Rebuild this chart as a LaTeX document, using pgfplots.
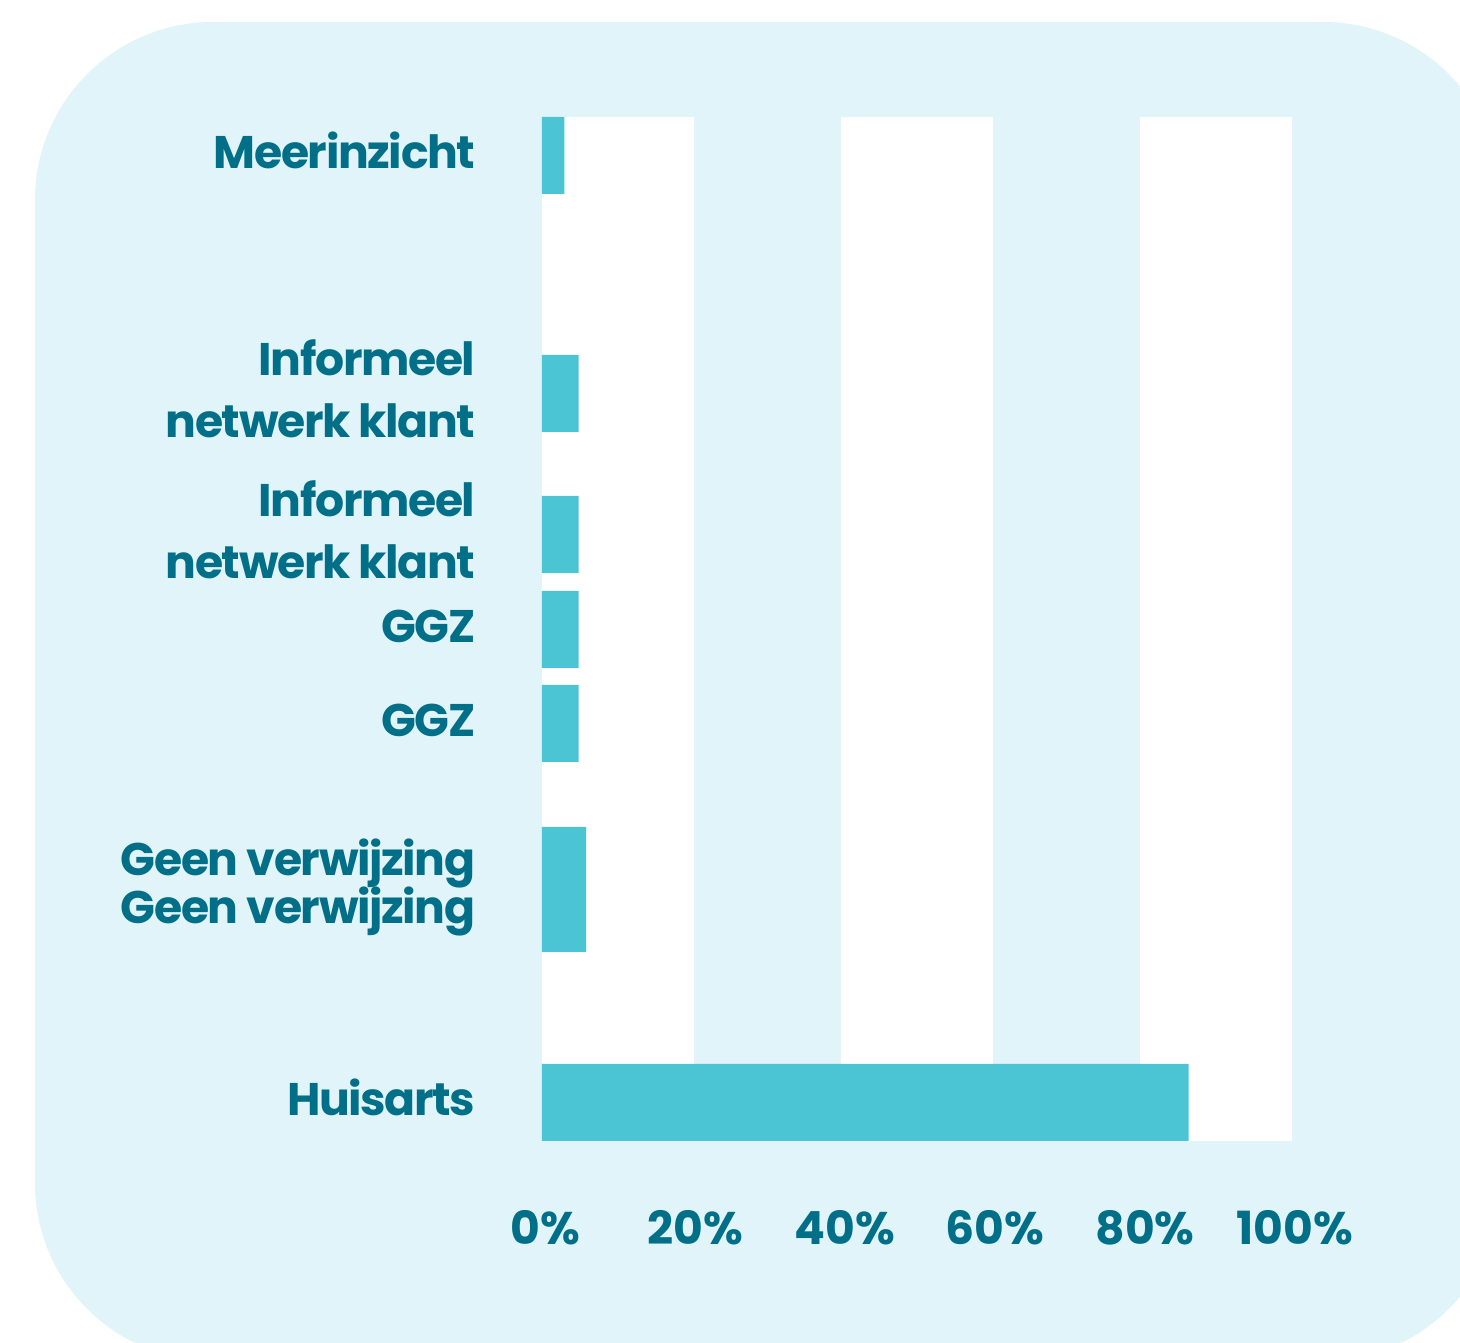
\documentclass[border=0pt]{standalone}
\usepackage{pgfplots}
\pgfplotsset{compat=1.18}
\usepackage{fontspec}
\setmainfont{Poppins}
\newfontfamily\lblfont{Poppins}[LetterSpace=-3]
\definecolor{bgc}{HTML}{E1F4F9}
\definecolor{barc}{HTML}{4BC4D3}
\definecolor{txt}{HTML}{006F87}
\begin{document}
\begin{tikzpicture}
\clip (0,0) rectangle (14.6,13.43);
\fill[white] (0,0) rectangle (14.6,13.43);
% rounded panel behind the chart
\fill[bgc, rounded corners=1.78cm] (0.35,13.21) rectangle (15.01,-0.18);
\begin{axis}[
    at={(5.42cm,2.02cm)}, anchor=south west,
    scale only axis,
    width=7.5cm, height=10.24cm,
    xmin=0, xmax=100,
    ymin=117, ymax=1141,
    y dir=reverse,
    axis line style={draw=none},
    major tick length=0pt,
    xtick={0,20,40,60,80,100},
    xticklabels={0\%,20\%,40\%,60\%,80\%,100\%},
    xticklabel style={anchor=base, yshift=-1.04cm, xshift=0.03cm, inner sep=0pt,
        font=\fontsize{13pt}{15pt}\selectfont\bfseries, text=txt},
    ytick={169,376,437.7,517,578.7,643,737,876,924,1116},
    yticklabels={Meerinzicht,Informeel,netwerk klant,Informeel,netwerk klant,
        GGZ,GGZ,Geen verwijzing,Geen verwijzing,Huisarts},
    yticklabel style={anchor=base east, xshift=-0.66cm, inner sep=0pt,
        font=\fontsize{13pt}{15pt}\lblfont\bfseries, text=txt},
    clip=false,
]
% white bands behind the bars
\fill[white] (axis cs:0,117) rectangle (axis cs:20.27,1141);
\fill[white] (axis cs:39.87,117) rectangle (axis cs:60.13,1141);
\fill[white] (axis cs:79.73,117) rectangle (axis cs:100,1141);
\addplot[xbar, fill=barc, draw=none, bar width=77] coordinates {
    (3,155.5)
    (4.9,393.5)
    (4.9,534.5)
    (4.9,629.5)
    (4.9,723.5)
    (5.9,865.5)
    (5.9,913.5)
    (86.2,1102.5)
};
\end{axis}
\end{tikzpicture}
\end{document}
